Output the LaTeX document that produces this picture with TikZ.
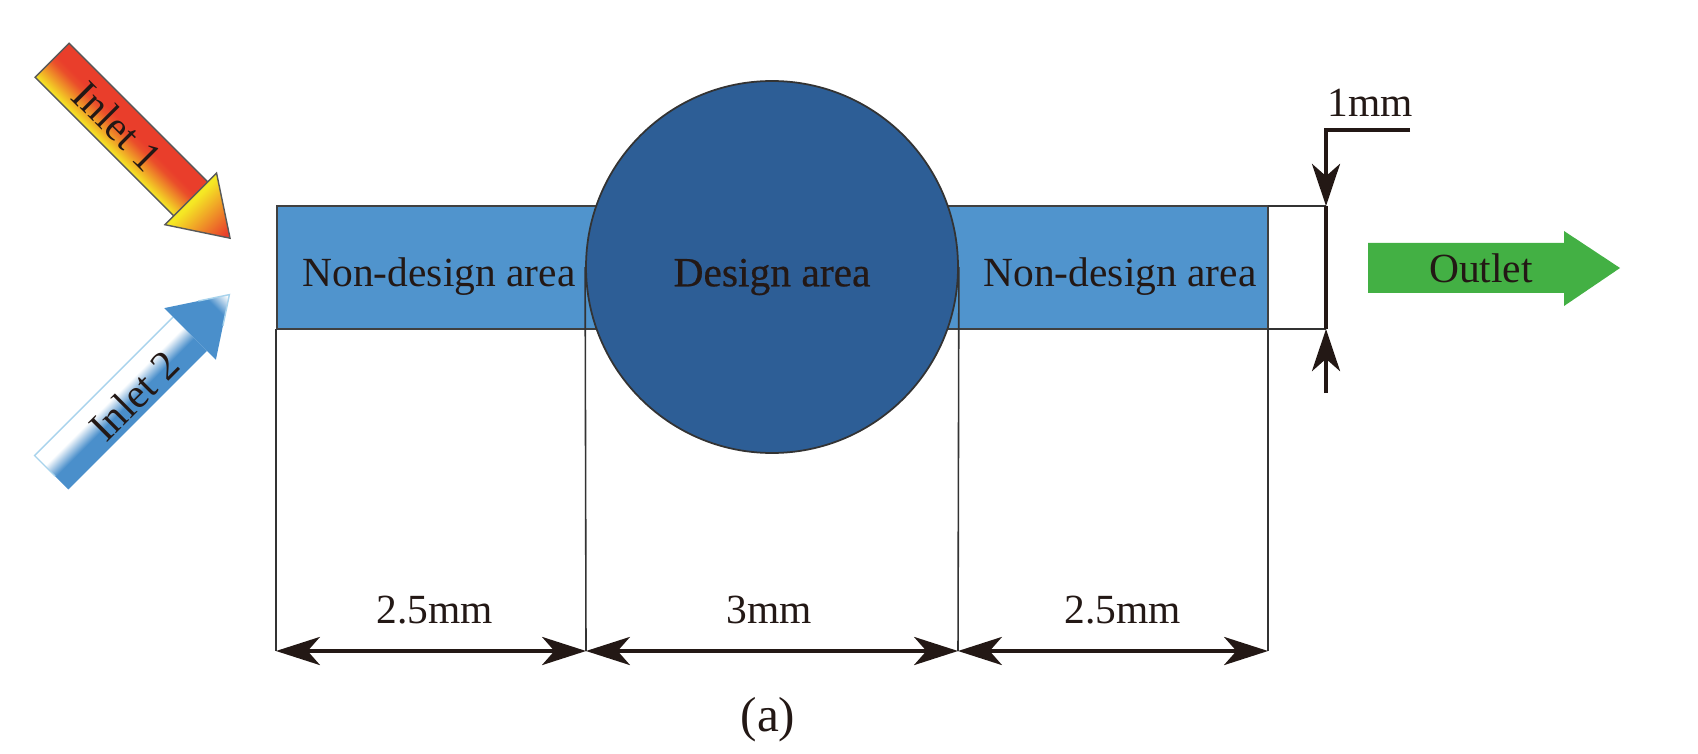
\documentclass[tikz,border=0pt]{standalone}
\usepackage{fontspec}
\setmainfont{Liberation Serif}
\newfontfamily\fakebold[FakeBold=0.5]{Liberation Serif}
\usetikzlibrary{arrows.meta}
\definecolor{inkdark}{HTML}{231815}
\definecolor{areablue}{HTML}{5094CD}
\definecolor{circleblue}{HTML}{2D5E96}
\definecolor{outgreen}{HTML}{43B044}
\definecolor{hotred}{HTML}{E93E2B}
\definecolor{hotyellow}{HTML}{F5E824}
\definecolor{coldblue}{HTML}{4A8FCB}
\definecolor{coldedge}{HTML}{A8D3EC}
% the box of a shaded path fills the stops from 25bp to 75bp
\pgfdeclareverticalshading{hotshaft}{100bp}{color(0bp)=(hotyellow); color(25bp)=(hotyellow); color(50bp)=(hotred!90!hotyellow); color(57bp)=(hotred); color(100bp)=(hotred)}
\pgfdeclarehorizontalshading{hothead}{100bp}{color(0bp)=(hotyellow); color(28bp)=(hotyellow); color(70bp)=(hotred); color(100bp)=(hotred)}
\pgfdeclareverticalshading{coldshaft}{100bp}{color(0bp)=(coldblue); color(44bp)=(coldblue); color(60bp)=(white); color(100bp)=(white)}
\pgfdeclarehorizontalshading{coldhead}{100bp}{color(0bp)=(coldblue); color(58bp)=(coldblue); color(73bp)=(white); color(100bp)=(white)}
\tikzset{
  label/.style={font=\fontsize{11.8}{14}\selectfont, text=inkdark, inner sep=0pt},
  thinline/.style={line width=0.45pt, color=black!80},
  dimline/.style={line width=1pt, color=inkdark},
  dimarrow/.style={dimline, {Stealth[length=12.5pt,width=8pt,inset=3.5pt]}-{Stealth[length=12.5pt,width=8pt,inset=3.5pt]}},
  onearrow/.style={dimline, -{Stealth[length=12pt,width=8pt,inset=3.5pt]}}
}
\begin{document}
\begin{tikzpicture}
  \useasboundingbox (0,0) rectangle (16.98,7.53);

  % channel
  \coordinate (west top) at (2.77,5.47);
  \coordinate (west bot) at (2.77,4.24);
  \coordinate (east top) at (12.68,5.47);
  \coordinate (east bot) at (12.68,4.24);
  \coordinate (gap top) at (13.26,5.47);
  \coordinate (gap bot) at (13.26,4.24);
  \filldraw[line width=0.5pt, color=black!75, fill=areablue] (west bot) rectangle (east top);
  \draw[thinline] (east top) -- (gap top);
  \draw[thinline] (east bot) -- (gap bot);

  % design circle
  \node[circle, draw=black!80, line width=0.5pt, fill=circleblue, inner sep=0pt,
    minimum size=3.72cm] (design circle) at (7.72,4.86) {};

  \node[label] (left area) at (4.39,4.76) {Non-design area};
  \node[label] (right area) at (11.20,4.76) {Non-design area};
  \node[label, font=\fontsize{11.8}{14}\fakebold] (design area) at (7.72,4.76) {Design area};

  % extension lines
  \coordinate (dim a) at (2.76,1.02);
  \coordinate (dim b) at (5.86,1.02);
  \coordinate (dim c) at (9.58,1.02);
  \coordinate (dim d) at (12.68,1.02);
  \draw[thinline] (2.76,4.24) -- (dim a);
  \draw[thinline] (design circle.west) -- (dim b);
  \draw[thinline] (design circle.east) -- (dim c);
  \draw[thinline] (east bot) -- (dim d);

  % bottom dimensions
  \draw[dimarrow] (dim a) -- (dim b);
  \draw[dimarrow] (dim b) -- (dim c);
  \draw[dimarrow] (dim c) -- (dim d);
  \node[label] (left size) at (4.35,1.43) {2.5mm};
  \node[label] (mid size) at (7.69,1.43) {3mm};
  \node[label] (right size) at (11.23,1.43) {2.5mm};
  \node[label, font=\fontsize{14}{16}\selectfont] (caption) at (7.68,0.33) {(a)};

  % height dimension
  \coordinate (lead end) at (14.10,6.23);
  \coordinate (lead knee) at (13.26,6.23);
  \coordinate (tail end) at (13.26,3.60);
  \draw[onearrow] (lead end) -- (lead knee) -- (gap top);
  \draw[dimline] (gap top) -- (gap bot);
  \draw[onearrow] (tail end) -- (gap bot);
  \node[label] (height size) at (13.70,6.50) {1mm};

  % outlet
  \fill[outgreen] (13.68,5.10) -- (15.64,5.10) -- (15.64,5.22) -- (16.20,4.85)
    -- (15.64,4.47) -- (15.64,4.60) -- (13.68,4.60) -- cycle;
  \node[label] (outlet) at (14.81,4.85) {Outlet};

  % inlet 1
  \begin{scope}[transform canvas={shift={(0.5215,6.927)}, rotate=-45}]
    \shade[shading=hotshaft] (0,-0.24) rectangle (1.96,0.24);
    \draw[line width=0.4pt, color=black!65] (1.96,-0.24) -- (0,-0.24) -- (0,0.24) -- (1.96,0.24);
    \shade[shading=hothead, draw=black!65, line width=0.4pt]
      (1.96,-0.365) -- (2.516,0) -- (1.96,0.365) -- cycle;
  \end{scope}
  \node[label, rotate=-45] (inlet one) at (1.175,6.27) {Inlet 1};

  % inlet 2
  \begin{scope}[transform canvas={shift={(0.515,2.805)}, rotate=45}]
    \shade[shading=coldshaft] (0,-0.24) rectangle (1.96,0.24);
    \draw[line width=0.4pt, color=coldedge] (1.96,0.24) -- (0,0.24) -- (0,-0.05);
    \shade[shading=coldhead] (1.96,-0.365) -- (2.516,0) -- (1.96,0.365) -- cycle;
    \draw[line width=0.4pt, color=coldedge] (2.25,0.175) -- (2.516,0) -- (2.25,-0.175);
  \end{scope}
  \node[label, rotate=45] (inlet two) at (1.34,3.57) {Inlet 2};
\end{tikzpicture}
\end{document}
